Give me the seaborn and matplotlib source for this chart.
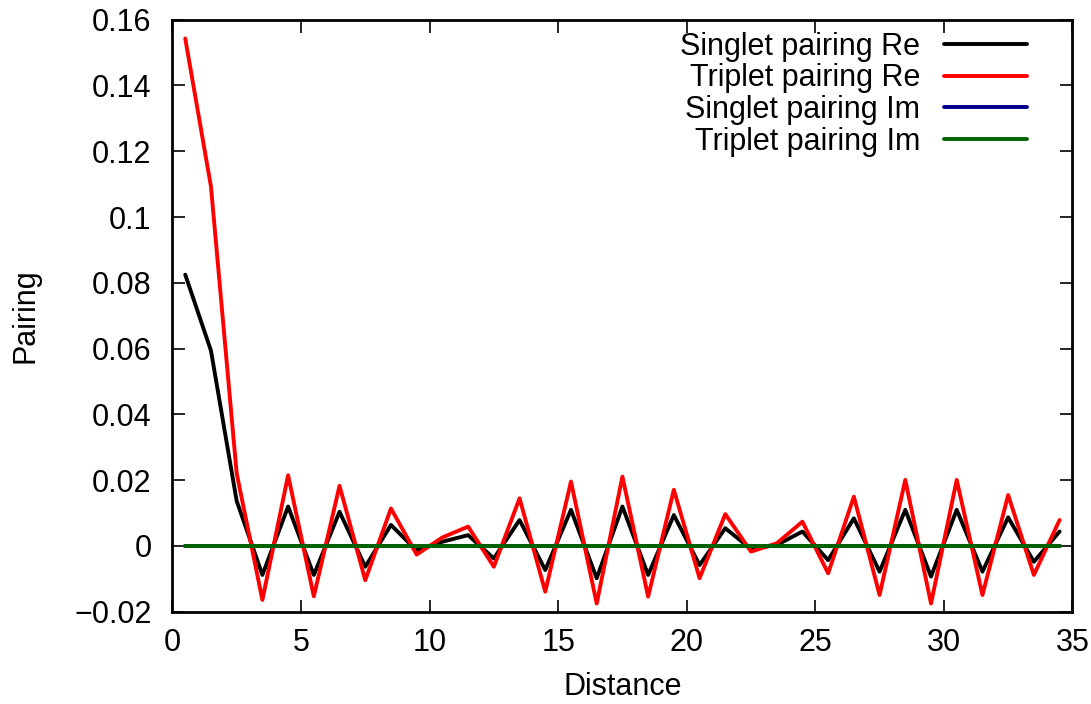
import numpy as np
import pandas as pd
import matplotlib
matplotlib.use("Agg")
import matplotlib.pyplot as plt
import seaborn as sns

distance = np.arange(0.5, 35.0, 1.0)

singlet_re = [0.0825, 0.0594, 0.0137, -0.0088, 0.0120, -0.0088, 0.0104, -0.0063, 0.0064,
              -0.0014, 0.0013, 0.0033, -0.0038, 0.0079, -0.0073, 0.0110, -0.0098, 0.0120,
              -0.0088, 0.0094, -0.0058, 0.0054, -0.0009, 0.0003, 0.0044, -0.0043, 0.0084,
              -0.0078, 0.0110, -0.0093, 0.0110, -0.0078, 0.0087, -0.0048, 0.0044]
triplet_re = [0.1543, 0.1093, 0.0221, -0.0164, 0.0215, -0.0153, 0.0183, -0.0104, 0.0114,
              -0.0026, 0.0026, 0.0059, -0.0063, 0.0145, -0.0139, 0.0196, -0.0175, 0.0211,
              -0.0154, 0.0171, -0.0098, 0.0097, -0.0017, 0.0008, 0.0074, -0.0083, 0.0150,
              -0.0149, 0.0201, -0.0175, 0.0201, -0.0149, 0.0155, -0.0088, 0.0079]
singlet_im = [0.0] * 35
triplet_im = [0.0] * 35

series = {
    "Singlet pairing Re": singlet_re,
    "Triplet pairing Re": triplet_re,
    "Singlet pairing Im": singlet_im,
    "Triplet pairing Im": triplet_im,
}
colors = ["#000000", "#ff0000", "#00008b", "#006400"]

df = pd.DataFrame({"Distance": np.tile(distance, 4),
                   "Pairing": np.concatenate([series[k] for k in series]),
                   "Series": np.repeat(list(series.keys()), len(distance))})

sns.set_style("ticks")
plt.rcParams['font.family'] = ['Liberation Sans', 'DejaVu Sans']
for key in ["text.color", "axes.labelcolor", "xtick.color", "ytick.color", "axes.edgecolor"]:
    plt.rcParams[key] = "black"

fig = plt.figure(figsize=(10.91, 7.04), dpi=100)
ax = fig.add_axes([0.158, 0.131, 0.825, 0.841])
sns.lineplot(data=df, x="Distance", y="Pairing", hue="Series", palette=colors,
             linewidth=2.8, ax=ax, estimator=None, sort=False)

ax.set_xlim(0, 35)
ax.set_ylim(-0.02, 0.16)
ax.set_xticks(range(0, 36, 5))
ax.set_yticks(np.arange(-0.02, 0.161, 0.02))
ax.set_yticklabels(["\u22120.02", "0", "0.02", "0.04", "0.06", "0.08", "0.1", "0.12", "0.14", "0.16"])
ax.tick_params(direction="in", length=9, width=1.2, labelsize=22, top=True, right=True)
ax.tick_params(axis="y", pad=15)
ax.tick_params(axis="x", pad=12)
for s in ax.spines.values():
    s.set_linewidth(2)
    s.set_visible(True)
ax.set_xlabel("Distance", fontsize=22, labelpad=10)
ax.set_ylabel("Pairing", fontsize=22, labelpad=24)

leg = ax.legend(loc="upper right", bbox_to_anchor=(0.963, 1.0), frameon=False,
                fontsize=22, markerfirst=False, handlelength=2.7, labelspacing=0.05,
                handletextpad=0.8, borderaxespad=0)
for line in leg.get_lines():
    line.set_linewidth(2.8)

fig.savefig("out.png", dpi=100)
